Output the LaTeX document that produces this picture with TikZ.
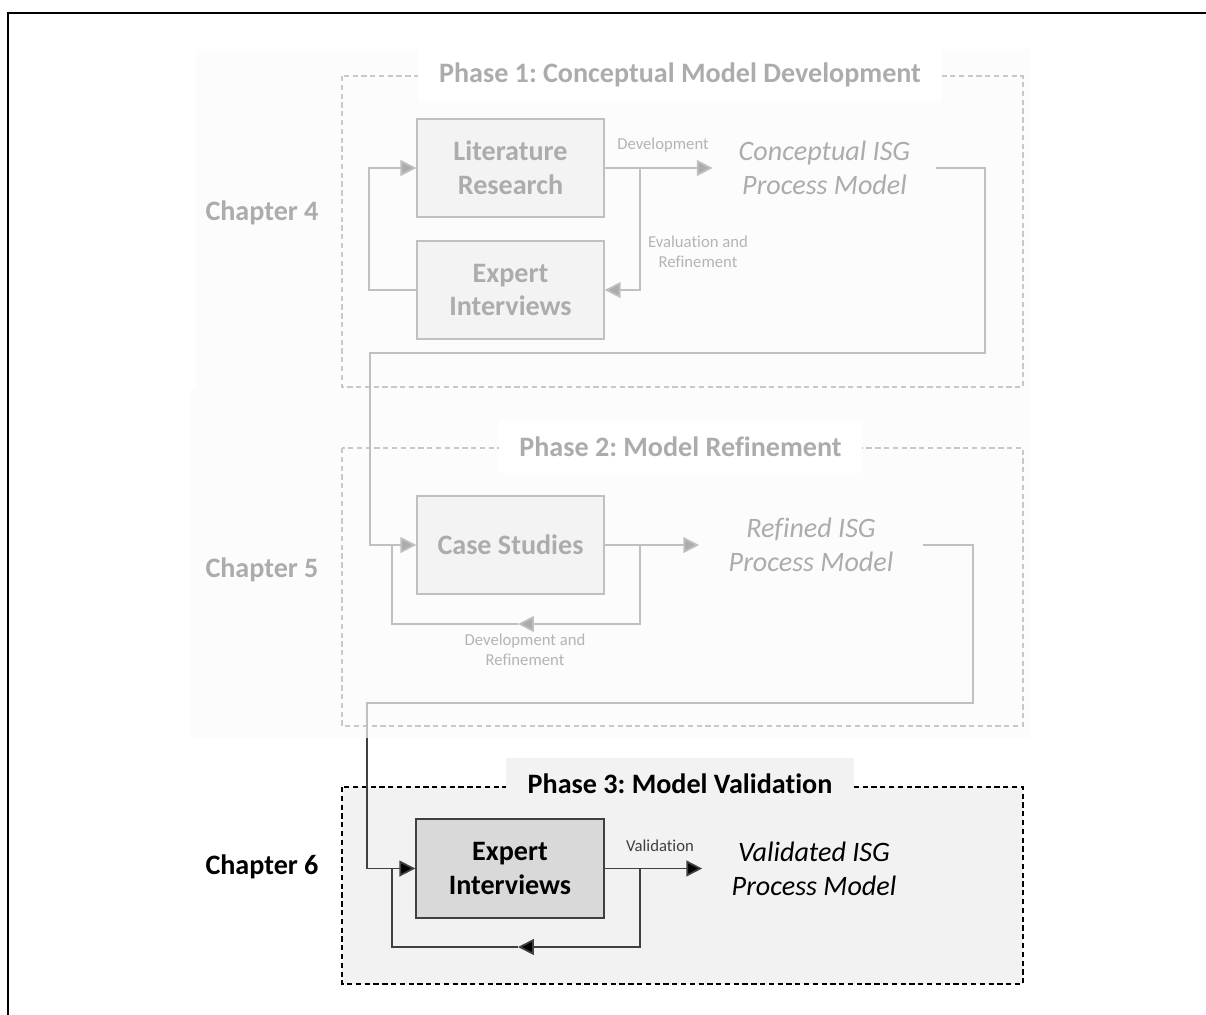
\documentclass[tikz,border=0pt]{standalone}
\usepackage{fontspec}
\setmainfont{Carlito}[RawFeature={-liga;-clig;-calt;-dlig}]
\frenchspacing
\usetikzlibrary{arrows.meta}

\definecolor{fadetxt}{RGB}{172,172,172}
\definecolor{fadeline}{RGB}{192,192,192}
\definecolor{fadefill}{RGB}{243,243,243}
\definecolor{fadebg}{RGB}{252,252,252}
\definecolor{fadedash}{RGB}{200,200,200}
\definecolor{fadelbl}{RGB}{180,180,180}
\definecolor{darkline}{RGB}{64,64,64}
\definecolor{stagefill}{RGB}{217,217,217}
\definecolor{p3fill}{RGB}{242,242,242}

\begin{document}
\begin{tikzpicture}[
  big/.style={font=\fontsize{16}{19.3}\selectfont\bfseries, align=center},
  fstage/.style={big, draw=fadeline, fill=fadefill, line width=0.8pt, minimum width=3.74cm, minimum height=1.96cm, text=fadetxt},
  stage/.style={big, draw=darkline, fill=stagefill, line width=0.8pt, minimum width=3.76cm, minimum height=1.98cm, text=black},
  result/.style={font=\fontsize{16}{19.3}\selectfont\itshape, align=center, minimum width=4.46cm},
  ptitle/.style={big, minimum height=1.04cm, inner sep=0pt},
  lbl/.style={font=\fontsize{9.5}{11.5}\selectfont, align=center},
  fconn/.style={draw=fadeline, line width=1pt},
  farr/.style={fconn, -{Triangle[length=9pt, width=9pt, fill=fadetxt]}},
  conn/.style={draw=darkline, line width=1pt},
  arr/.style={conn, -{Triangle[length=9pt, width=9pt, fill=black]}},
  fdash/.style={draw=fadedash, line width=0.6pt, dash pattern=on 3pt off 2pt},
  pdash/.style={draw=black, line width=0.6pt, dash pattern=on 3pt off 2pt}
]
\useasboundingbox (0,0) rectangle (24.12,-20.28);
\draw[line width=1.2pt] (0.16,-20.40) -- (0.16,-0.26) -- (24.30,-0.26);

\fill[fadebg] (3.92,-0.98) rectangle (20.60,-7.74);
\fill[fadebg] (3.82,-7.74) rectangle (20.60,-14.76);
\draw[fdash] (6.84,-1.52) rectangle (20.46,-7.74);
\draw[fdash] (6.84,-8.96) rectangle (20.46,-14.52);
\draw[pdash, fill=p3fill] (6.84,-15.74) rectangle (20.46,-19.68);

\node[ptitle, fill=white, minimum width=10.48cm, text=fadetxt] (p1title) at (13.60,-1.50) {Phase 1: Conceptual Model Development};
\node[ptitle, fill=white, minimum width=7.26cm, text=fadetxt] (p2title) at (13.61,-8.93) {Phase 2: Model Refinement};
\node[ptitle, fill=p3fill, minimum width=6.96cm, text=black] (p3title) at (13.60,-15.68) {Phase 3: Model Validation};

\node[big, text=fadetxt] (ch4) at (5.24,-4.26) {Chapter 4};
\node[big, text=fadetxt] (ch5) at (5.24,-11.40) {Chapter 5};
\node[big] (ch6) at (5.24,-17.34) {Chapter 6};

\node[fstage] (lit) at (10.21,-3.36) {Literature\\Research};
\node[fstage] (exp1) at (10.21,-5.80) {Expert\\Interviews};
\node[fstage] (case) at (10.21,-10.90) {Case Studies};
\node[stage] (exp3) at (10.20,-17.37) {Expert\\Interviews};

\node[result, text=fadetxt] (concept) at (16.49,-3.36) {Conceptual ISG\\Process Model};
\node[result, text=fadetxt] (refined) at (16.22,-10.90) {Refined ISG\\Process Model};
\node[result] (valid) at (16.28,-17.37) {Validated ISG\\Process Model};

\node[lbl, text=fadelbl] (dev1) at (13.26,-2.90) {Development};
\node[lbl, text=fadelbl] (eval1) at (13.96,-5.03) {Evaluation and\\Refinement};
\node[lbl, text=fadelbl] (dev2) at (10.50,-13.00) {Development and\\Refinement};
\node[lbl, text=darkline] (val3) at (13.20,-16.92) {Validation};

\coordinate (br1) at (12.80,-3.36);
\coordinate (br2) at (12.80,-10.90);
\coordinate (br3) at (12.80,-17.37);
\coordinate (back2) at (10.36,-12.48);
\coordinate (back3) at (10.36,-18.94);
\coordinate (hand) at (7.34,-14.76);

\draw[farr] (lit.east) -- (concept.west);
\draw[farr] (br1) |- (exp1.east);
\draw[farr] (exp1.west) -- ++(-0.94,0) |- (lit.west);
\draw[farr] (concept.east) -| (19.70,-7.06) -| (7.40,-10.90) -- (case.west);

\draw[farr] (case.east) -- (refined.west);
\draw[farr] (br2) |- (back2);
\draw[fconn] (back2) -| (7.84,-10.90);
\draw[fconn] (refined.east) -| (19.46,-14.06) -| (hand);
\draw[arr] (hand) |- (exp3.west);

\draw[arr] (exp3.east) -- (valid.west);
\draw[arr] (br3) |- (back3);
\draw[conn] (back3) -| (7.84,-17.37);
\end{tikzpicture}
\end{document}
